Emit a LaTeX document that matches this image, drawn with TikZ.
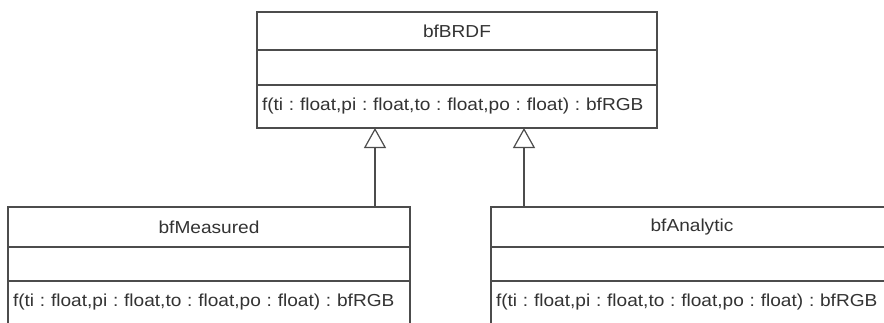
\documentclass[tikz,border=0pt]{standalone}
\usepackage{fontspec}
\newfontfamily\umlfont{Liberation Sans}[FakeStretch=1.1]
\usetikzlibrary{positioning,arrows.meta}
\frenchspacing

\begin{document}
\begin{tikzpicture}[x=1pt, y=-1pt,
		box/.style={draw=black!70, line width=1.2pt, outer sep=0pt, inner xsep=5pt, text=black!80, font=\umlfont\fontsize{17.35}{20}\selectfont},
		namebox/.style={box, minimum height=#1, align=center},
		attrbox/.style={box, minimum height=#1},
		opbox/.style={box, minimum height=#1, align=left},
		inherit/.style={draw=black!70, line width=1.2pt, -{Triangle[open, length=20pt, width=22pt]}}]
		\useasboundingbox[fill=white] (0,0) rectangle (884,322);
		% parent class
		\node [namebox=38, minimum width=400, anchor=north west] (brdf) at (257,12) {bfBRDF};
		\node [attrbox=35, minimum width=400, below=0pt of brdf] (brdfattr) {};
		\node [opbox=43, text width=390, below=0pt of brdfattr] (brdfop) {\mbox{f(ti : float,pi : float,to : float,po : float) : bfRGB}};
		% child classes
		\node [namebox=40, minimum width=402, anchor=north west] (measured) at (8,207) {bfMeasured};
		\node [attrbox=34, minimum width=402, below=0pt of measured] (measuredattr) {};
		\node [opbox=43, text width=392, below=0pt of measuredattr] (measuredop) {\mbox{f(ti : float,pi : float,to : float,po : float) : bfRGB}};
		\node [namebox=40, minimum width=402, anchor=north west] (analytic) at (491,207) {bfAnalytic};
		\node [attrbox=34, minimum width=402, below=0pt of analytic] (analyticattr) {};
		\node [opbox=43, text width=392, below=0pt of analyticattr] (analyticop) {\mbox{f(ti : float,pi : float,to : float,po : float) : bfRGB}};
		% generalisation
		\draw [inherit] ([xshift=166pt]measured.north) -- ([xshift=166pt]measured.north |- brdfop.south);
		\draw [inherit] ([xshift=-168pt]analytic.north) -- ([xshift=-168pt]analytic.north |- brdfop.south);
	\end{tikzpicture}
\end{document}
